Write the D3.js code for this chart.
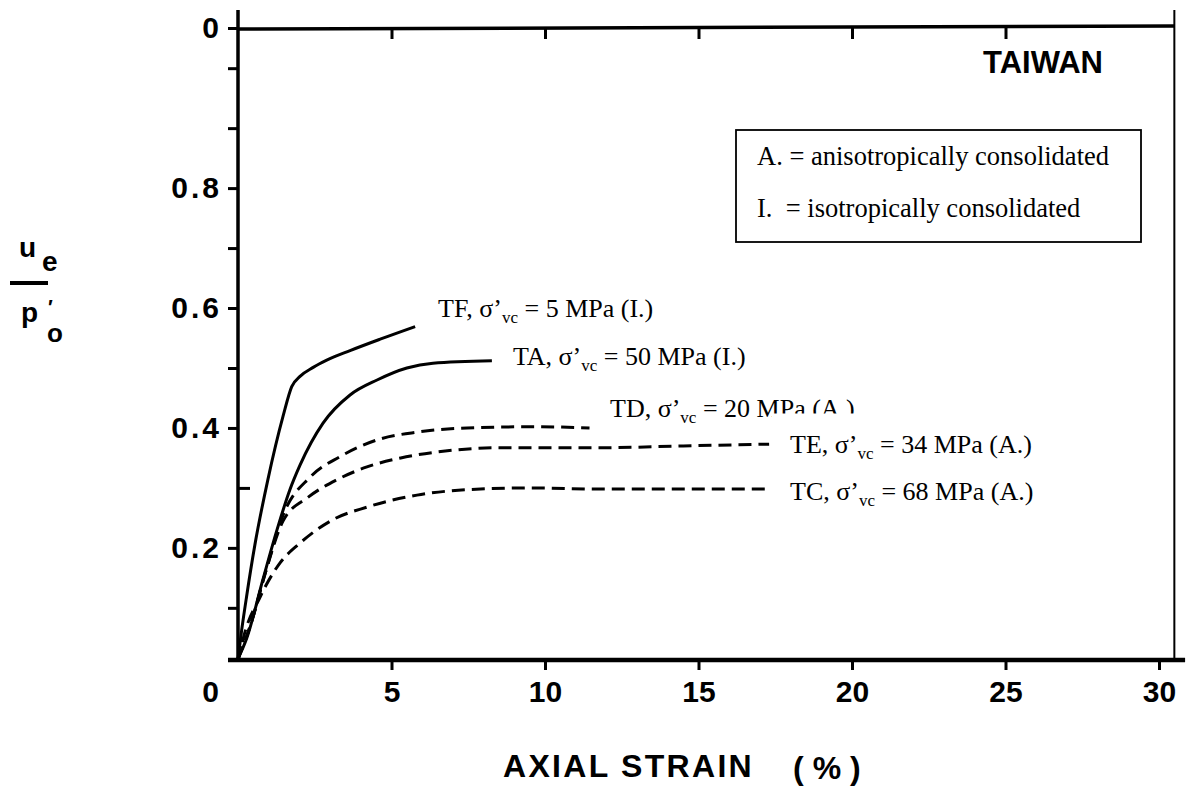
<!DOCTYPE html>
<html>
<head>
<meta charset="utf-8">
<script src="https://cdn.jsdelivr.net/npm/d3@7"></script>
<style>
body{margin:0;background:#fff;}
svg{display:block;}
</style>
</head>
<body>
<svg id="chart"></svg>
<script>

//axis values
var xTicks = [0,5,10,15,20,25,30]
var xTickLabels = ["0","5","10","15","20","25","30"]
var topTicks = [5,10,15,20,25]
var yLo = 0.013
var yTop = 1.067
var yTicks = [0.2,0.4,0.6,0.8,yTop]
var yTickLabels = ["0.2","0.4","0.6","0.8","0"]
var yMinor = [0.1,0.3,0.5,0.7,0.9,1.0]

//curves: [axial strain %, ue/p'o]
var tf = [[0,0.015],[0.12,0.063],[0.28,0.119],[0.55,0.205],[0.97,0.313],[1.47,0.42],[1.75,0.469],
          [2.02,0.486],[2.45,0.501],[2.89,0.513],[3.65,0.529],[4.63,0.548],[5.77,0.569]]
var ta = [[0,0.015],[0.29,0.05],[0.81,0.147],[1.27,0.23],[1.69,0.297],[2.02,0.338],[2.77,0.408],
          [3.65,0.455],[4.53,0.48],[5.5,0.5],[6.35,0.508],[8.27,0.512]]
var td = [[0,0.015],[0.4,0.07],[0.9,0.16],[1.47,0.255],[2.35,0.318],[3.32,0.352],[4.53,0.38],
          [5.83,0.393],[7.46,0.4],[9.61,0.402],[11.45,0.4]]
var te = [[0,0.015],[0.4,0.07],[0.9,0.16],[1.47,0.245],[2.3,0.285],[3.2,0.313],[4.2,0.335],
          [5.3,0.35],[6.5,0.36],[8.5,0.367],[11.8,0.367],[14.5,0.37],[17.3,0.373]]
var tc = [[0,0.01],[0.16,0.047],[0.72,0.118],[1.37,0.175],[2.02,0.208],[3.09,0.247],[4.2,0.268],
          [5.83,0.288],[7.46,0.297],[9.61,0.3],[11.8,0.298],[14.5,0.298],[17.3,0.298]]

var seriesNames = ["TF","TA","TD","TE","TC"]
var seriesData = [tf,ta,td,te,tc]
var seriesStress = ["5","50","20","34","68"]
var seriesCons = ["I.","I.","A.","A.","A."]

var legendLines = ["A. = anisotropically consolidated","I.  = isotropically consolidated"]

var sans = "'Liberation Sans', Arial, Helvetica, sans-serif"
var serif = "'Liberation Serif', 'Times New Roman', serif"

//where each curve label sits
var labelPos = {
    TF:{x:438,y:317},
    TA:{x:513,y:365},
    TD:{x:610,y:417},
    TE:{x:790,y:453},
    TC:{x:790,y:500}
}

var drawAxes = function(svg,xScale,yScale)
{
    //bottom axis
    var xAxis = d3.axisBottom(xScale)
        .tickValues(xTicks)
        .tickFormat(function(d,i){ return xTickLabels[i] })
        .tickSize(10)
        .tickPadding(11)
    var gx = svg.append("g")
        .attr("transform","translate(0,"+yScale(yLo)+")")
        .call(xAxis)
    gx.attr("font-family",sans).attr("font-size",30).attr("font-weight","bold")
    gx.select(".domain").remove()
    gx.selectAll(".tick line").attr("stroke","#000").attr("stroke-width",3)
    gx.selectAll(".tick text").attr("fill","#000")
    gx.selectAll(".tick").filter(function(d){ return d===0 })
        .call(function(t)
        {
            t.select("line").remove()
            t.select("text").attr("x",-28)
        })

    svg.append("line")
        .attr("x1",xScale(0)-10).attr("x2",xScale(30.85))
        .attr("y1",yScale(yLo)).attr("y2",yScale(yLo))
        .attr("stroke","#000").attr("stroke-width",4.5)

    //top frame with inward ticks
    var topAxis = d3.axisTop(xScale)
        .tickValues(topTicks)
        .tickFormat("")
        .tickSize(-11)
    var gt = svg.append("g")
        .attr("transform","translate(0,"+yScale(yTop)+")")
        .call(topAxis)
    gt.select(".domain").remove()
    gt.selectAll(".tick line").attr("stroke","#000").attr("stroke-width",3)

    svg.append("line")
        .attr("x1",xScale(0)).attr("x2",xScale(30.5))
        .attr("y1",yScale(yTop)+1).attr("y2",yScale(yTop)-2)
        .attr("stroke","#000").attr("stroke-width",3.5)

    //right frame
    svg.append("line")
        .attr("x1",xScale(30.5)).attr("x2",xScale(30.5))
        .attr("y1",yScale(yTop)-18).attr("y2",yScale(yLo))
        .attr("stroke","#000").attr("stroke-width",2)

    //left axis
    var yAxis = d3.axisLeft(yScale)
        .tickValues(yTicks)
        .tickFormat(function(d,i){ return yTickLabels[i] })
        .tickSize(10)
        .tickPadding(6)
    var gy = svg.append("g")
        .attr("transform","translate("+xScale(0)+",0)")
        .call(yAxis)
    gy.attr("font-family",sans).attr("font-size",30).attr("font-weight","bold")
    gy.select(".domain").remove()
    gy.selectAll(".tick line").attr("stroke","#000").attr("stroke-width",3)
    gy.selectAll(".tick text").attr("fill","#000").attr("letter-spacing",3)

    var minorAxis = d3.axisLeft(yScale)
        .tickValues(yMinor)
        .tickFormat("")
        .tickSize(10)
    var gm = svg.append("g")
        .attr("transform","translate("+xScale(0)+",0)")
        .call(minorAxis)
    gm.select(".domain").remove()
    gm.selectAll(".tick line").attr("stroke","#000").attr("stroke-width",3)
    gm.selectAll(".tick").filter(function(d){ return d===0.3 })
        .select("line").attr("x2",12)

    svg.append("line")
        .attr("x1",xScale(0)).attr("x2",xScale(0))
        .attr("y1",yScale(yTop)-18).attr("y2",yScale(yLo)+2)
        .attr("stroke","#000").attr("stroke-width",3.5)

    //axis titles
    svg.append("text")
        .attr("x",503).attr("y",777)
        .attr("font-family",sans).attr("font-size",32).attr("font-weight","bold")
        .attr("letter-spacing",2.3)
        .text("AXIAL STRAIN")
    svg.append("text")
        .attr("x",793).attr("y",779)
        .attr("font-family",sans).attr("font-size",32).attr("font-weight","bold")
        .attr("letter-spacing",9)
        .text("(%)")

    //ue over p'o
    var yl = svg.append("g")
        .attr("font-family",sans).attr("font-weight","bold").attr("font-size",28)
    var top = yl.append("text").attr("x",19).attr("y",257)
    top.append("tspan").text("u")
    top.append("tspan").attr("dx",6).attr("dy",14).text("e")
    yl.append("line")
        .attr("x1",10).attr("x2",48).attr("y1",283).attr("y2",283)
        .attr("stroke","#000").attr("stroke-width",4)
    var bot = yl.append("text").attr("x",21).attr("y",322)
    bot.append("tspan").text("p")
    bot.append("tspan").attr("dx",10).attr("dy",-8).attr("font-size",20).text("\u2032")
    yl.append("text").attr("x",47).attr("y",342).attr("font-size",26).text("o")
}

var drawCurves = function(svg,xScale,yScale)
{
    var line = d3.line()
        .x(function(d){ return xScale(d[0]) })
        .y(function(d){ return yScale(d[1]) })
        .curve(d3.curveMonotoneX)

    svg.append("g")
        .selectAll("path")
        .data(seriesData)
        .enter()
        .append("path")
        .attr("d",line)
        .attr("fill","none")
        .attr("stroke","#000")
        .attr("stroke-width",3)
        .attr("stroke-dasharray",function(d,i)
        {
            return seriesCons[i]==="A." ? "13,7" : null
        })

    //curve labels
    seriesNames.forEach(function(name,i)
    {
        var t = svg.append("text")
            .attr("x",labelPos[name].x)
            .attr("y",labelPos[name].y)
            .attr("font-family",serif)
            .attr("font-size",26)
        t.append("tspan").text(name+", \u03c3\u2019")
        t.append("tspan").attr("font-size",17).attr("dy",6).text("vc")
        t.append("tspan").attr("dy",-6).text(" = "+seriesStress[i]+" MPa ("+seriesCons[i]+")")
    })

    //the TD label is clipped at its foot in the picture
    svg.append("rect")
        .attr("x",772).attr("y",413.5)
        .attr("width",95).attr("height",10)
        .attr("fill","#fff")
}

var drawLegend = function(svg)
{
    svg.append("text")
        .attr("x",983).attr("y",73)
        .attr("font-family",sans).attr("font-size",31).attr("font-weight","bold")
        .text("TAIWAN")

    svg.append("rect")
        .attr("x",736).attr("y",130)
        .attr("width",405).attr("height",112)
        .attr("fill","#fff")
        .attr("stroke","#000")
        .attr("stroke-width",1.8)

    svg.selectAll(".leg")
        .data(legendLines)
        .enter()
        .append("text")
        .classed("leg",true)
        .attr("x",757)
        .attr("y",function(d,i){ return 165+i*52 })
        .attr("font-family",serif)
        .attr("font-size",26.5)
        .style("white-space","pre")
        .text(function(d){ return d })
}

var initGraph = function(target)
{
    var screen = {width:1189, height:786}

    var svg = d3.select(target)
        .attr("width",screen.width)
        .attr("height",screen.height)

    var xScale = d3.scaleLinear()
        .domain([0,30])
        .range([238,1159])

    var yScale = d3.scaleLinear()
        .domain([yLo,yTop])
        .range([660,28])

    drawAxes(svg,xScale,yScale)
    drawLegend(svg)
    drawCurves(svg,xScale,yScale)
}

initGraph("#chart")

</script>
</body>
</html>
